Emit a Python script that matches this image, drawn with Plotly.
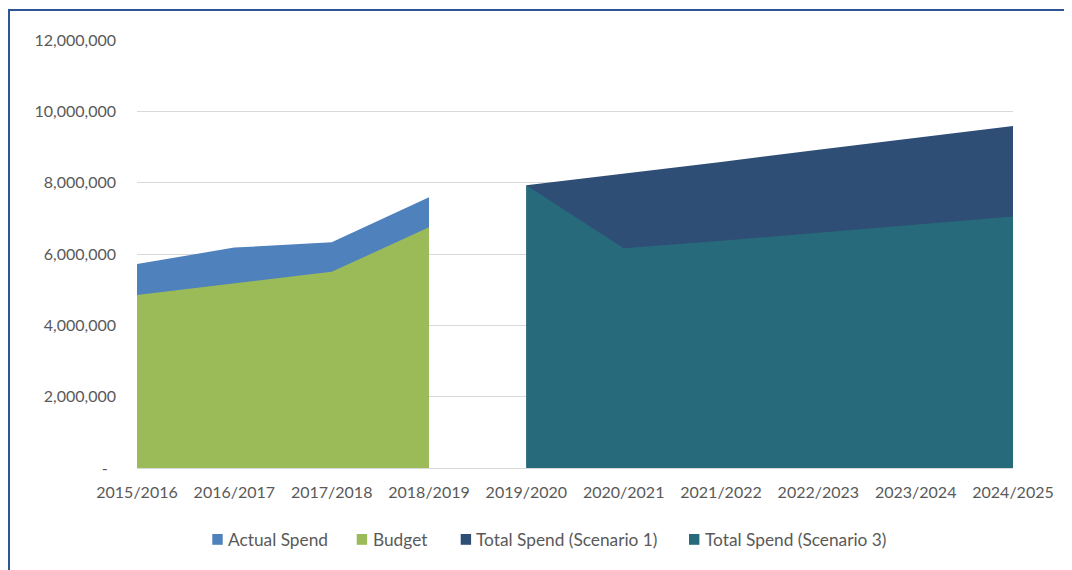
import plotly.graph_objects as go

categories = ["2015/2016", "2016/2017", "2017/2018", "2018/2019", "2019/2020",
              "2020/2021", "2021/2022", "2022/2023", "2023/2024", "2024/2025"]

actual_years = categories[0:4]
actual_spend = [5720000, 6180000, 6330000, 7590000]
budget = [4850000, 5180000, 5500000, 6750000]

scenario_years = categories[4:10]
scenario1 = [7930000, 8250000, 8580000, 8920000, 9250000, 9590000]
scenario3 = [7930000, 6160000, 6370000, 6590000, 6820000, 7050000]

y_tickvals = [0, 2000000, 4000000, 6000000, 8000000, 10000000, 12000000]
y_ticktext = ["-\u00a0\u00a0", "2,000,000", "4,000,000", "6,000,000", "8,000,000", "10,000,000", "12,000,000"]

series_names = ["Actual Spend", "Budget", "Total Spend (Scenario 1)", "Total Spend (Scenario 3)"]
series_x = [actual_years, actual_years, scenario_years, scenario_years]
series_y = [actual_spend, budget, scenario1, scenario3]
series_colors = ["#4F81BD", "#9BBB59", "#2E4E76", "#276A7C"]

FONT = "Lato"
TXT = "#595959"

fig = go.Figure()
for name, xs, ys, col in zip(series_names, series_x, series_y, series_colors):
    fig.add_trace(go.Scatter(
        x=xs, y=ys, name=name, mode="lines", fill="tozeroy",
        line=dict(width=0, color=col), fillcolor=col, showlegend=False,
        hoverinfo="x+y+name"))

# page has an 8px body margin; work in page pixel coordinates
OFF = 8
W, H = 1072 - OFF, 570 - OFF
PL, PR, PT, PB = 137, 1013, 40, 468        # plot area in page px
L, R, T, B = PL - OFF, (W + OFF) - PR, PT - OFF, (H + OFF) - PB
pw, ph = PR - PL, PB - PT

def px_x(px):
    return (px - PL) / pw

def px_y(py):
    return (PB - py) / ph

# manual legend (square swatch + label), positions in page px
legend_sq_left = [212.3, 356.7, 460.7, 689.0]
legend_txt_left = [227.0, 371.5, 475.0, 704.0]
LEG_Y0, LEG_Y1 = 534.0, 544.8
LEG_TY = 539.5

shapes = [dict(type="rect", xref="paper", yref="paper",
               x0=px_x(9), x1=px_x(1090), y0=px_y(600), y1=px_y(10),
               line=dict(color="#2F5597", width=2), fillcolor="rgba(0,0,0,0)",
               layer="above")]
annotations = []
for name, col, sx, tx in zip(series_names, series_colors, legend_sq_left, legend_txt_left):
    shapes.append(dict(type="rect", xref="paper", yref="paper",
                       x0=px_x(sx), x1=px_x(sx + 10.4), y0=px_y(LEG_Y1), y1=px_y(LEG_Y0),
                       line=dict(width=0), fillcolor=col, layer="above"))
    annotations.append(dict(text=name, xref="paper", yref="paper",
                            x=px_x(tx), y=px_y(LEG_TY), xanchor="left", yanchor="middle",
                            showarrow=False, borderpad=0,
                            font=dict(family=FONT, size=17.3, color=TXT)))

fig.update_layout(
    width=W, height=H,
    margin=dict(l=L, r=R, t=T, b=B),
    paper_bgcolor="white", plot_bgcolor="white",
    font=dict(family=FONT, size=16, color=TXT),
    showlegend=False,
    xaxis=dict(type="category", categoryorder="array", categoryarray=categories,
               range=[0, 9], showgrid=False, zeroline=False,
               showline=True, linecolor="#D9D9D9", linewidth=1,
               ticks="", ticklabelstandoff=10,
               tickfont=dict(family=FONT, size=16, color=TXT)),
    yaxis=dict(range=[0, 12000000], tickvals=y_tickvals, ticktext=y_ticktext,
               showgrid=True, gridcolor="#D9D9D9", gridwidth=1, zeroline=False,
               showline=False, ticks="", ticklabelstandoff=20,
               tickfont=dict(family=FONT, size=16, color=TXT)),
    shapes=shapes,
    annotations=annotations,
)

fig.write_html("out.html")
